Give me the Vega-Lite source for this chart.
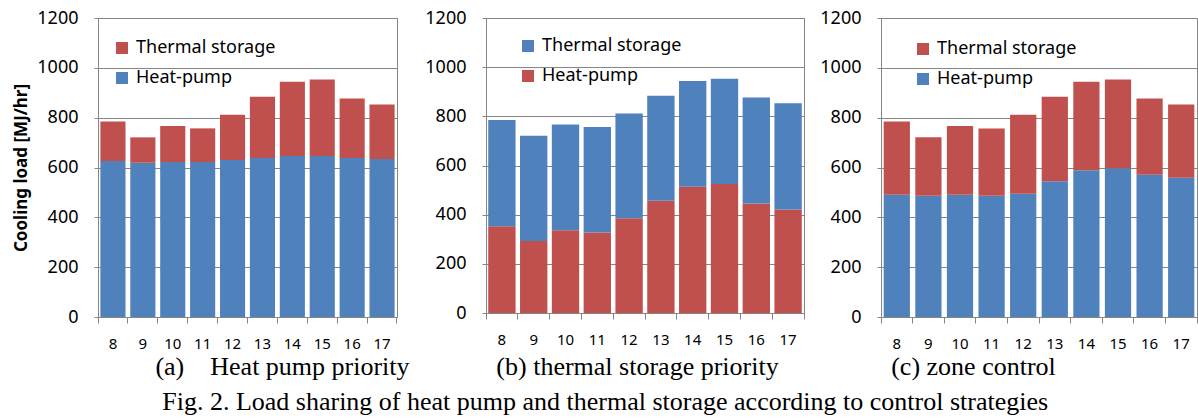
{
  "$schema": "https://vega.github.io/schema/vega-lite/v6.json",
  "padding": {"left": 12, "top": 8, "right": 0, "bottom": 0},
  "background": "white",
  "datasets": {
    "loads": [
      {"panel": "a", "hour": 8, "series": "Heat-pump", "value": 626},
      {"panel": "a", "hour": 9, "series": "Heat-pump", "value": 619},
      {"panel": "a", "hour": 10, "series": "Heat-pump", "value": 622},
      {"panel": "a", "hour": 11, "series": "Heat-pump", "value": 622},
      {"panel": "a", "hour": 12, "series": "Heat-pump", "value": 630},
      {"panel": "a", "hour": 13, "series": "Heat-pump", "value": 638},
      {"panel": "a", "hour": 14, "series": "Heat-pump", "value": 646},
      {"panel": "a", "hour": 15, "series": "Heat-pump", "value": 646},
      {"panel": "a", "hour": 16, "series": "Heat-pump", "value": 638},
      {"panel": "a", "hour": 17, "series": "Heat-pump", "value": 634},
      {"panel": "a", "hour": 8, "series": "Thermal storage", "value": 159},
      {"panel": "a", "hour": 9, "series": "Thermal storage", "value": 102},
      {"panel": "a", "hour": 10, "series": "Thermal storage", "value": 145},
      {"panel": "a", "hour": 11, "series": "Thermal storage", "value": 135},
      {"panel": "a", "hour": 12, "series": "Thermal storage", "value": 182},
      {"panel": "a", "hour": 13, "series": "Thermal storage", "value": 246},
      {"panel": "a", "hour": 14, "series": "Thermal storage", "value": 298},
      {"panel": "a", "hour": 15, "series": "Thermal storage", "value": 307},
      {"panel": "a", "hour": 16, "series": "Thermal storage", "value": 239},
      {"panel": "a", "hour": 17, "series": "Thermal storage", "value": 219},
      {"panel": "b", "hour": 8, "series": "Heat-pump", "value": 353},
      {"panel": "b", "hour": 9, "series": "Heat-pump", "value": 293},
      {"panel": "b", "hour": 10, "series": "Heat-pump", "value": 337},
      {"panel": "b", "hour": 11, "series": "Heat-pump", "value": 327},
      {"panel": "b", "hour": 12, "series": "Heat-pump", "value": 385},
      {"panel": "b", "hour": 13, "series": "Heat-pump", "value": 457},
      {"panel": "b", "hour": 14, "series": "Heat-pump", "value": 514},
      {"panel": "b", "hour": 15, "series": "Heat-pump", "value": 525},
      {"panel": "b", "hour": 16, "series": "Heat-pump", "value": 445},
      {"panel": "b", "hour": 17, "series": "Heat-pump", "value": 421},
      {"panel": "b", "hour": 8, "series": "Thermal storage", "value": 432},
      {"panel": "b", "hour": 9, "series": "Thermal storage", "value": 428},
      {"panel": "b", "hour": 10, "series": "Thermal storage", "value": 430},
      {"panel": "b", "hour": 11, "series": "Thermal storage", "value": 430},
      {"panel": "b", "hour": 12, "series": "Thermal storage", "value": 427},
      {"panel": "b", "hour": 13, "series": "Thermal storage", "value": 427},
      {"panel": "b", "hour": 14, "series": "Thermal storage", "value": 430},
      {"panel": "b", "hour": 15, "series": "Thermal storage", "value": 428},
      {"panel": "b", "hour": 16, "series": "Thermal storage", "value": 432},
      {"panel": "b", "hour": 17, "series": "Thermal storage", "value": 432},
      {"panel": "c", "hour": 8, "series": "Heat-pump", "value": 491},
      {"panel": "c", "hour": 9, "series": "Heat-pump", "value": 487},
      {"panel": "c", "hour": 10, "series": "Heat-pump", "value": 491},
      {"panel": "c", "hour": 11, "series": "Heat-pump", "value": 487},
      {"panel": "c", "hour": 12, "series": "Heat-pump", "value": 495},
      {"panel": "c", "hour": 13, "series": "Heat-pump", "value": 545},
      {"panel": "c", "hour": 14, "series": "Heat-pump", "value": 589},
      {"panel": "c", "hour": 15, "series": "Heat-pump", "value": 597},
      {"panel": "c", "hour": 16, "series": "Heat-pump", "value": 571},
      {"panel": "c", "hour": 17, "series": "Heat-pump", "value": 559},
      {"panel": "c", "hour": 8, "series": "Thermal storage", "value": 294},
      {"panel": "c", "hour": 9, "series": "Thermal storage", "value": 234},
      {"panel": "c", "hour": 10, "series": "Thermal storage", "value": 276},
      {"panel": "c", "hour": 11, "series": "Thermal storage", "value": 270},
      {"panel": "c", "hour": 12, "series": "Thermal storage", "value": 317},
      {"panel": "c", "hour": 13, "series": "Thermal storage", "value": 339},
      {"panel": "c", "hour": 14, "series": "Thermal storage", "value": 355},
      {"panel": "c", "hour": 15, "series": "Thermal storage", "value": 356},
      {"panel": "c", "hour": 16, "series": "Thermal storage", "value": 306},
      {"panel": "c", "hour": 17, "series": "Thermal storage", "value": 294}
    ]
  },
  "data": {"name": "loads"},
  "title": {
    "text": "Fig. 2. Load sharing of heat pump and thermal storage according to control strategies",
    "orient": "bottom",
    "anchor": "middle",
    "font": "Liberation Serif",
    "fontSize": 26,
    "fontWeight": "normal",
    "color": "black",
    "offset": 9,
    "dx": 0
  },
  "spacing": 14,
  "resolve": {"scale": {"color": "independent"}},
  "hconcat": [
    {
      "width": 299,
      "height": 299,
      "transform": [{"filter": "datum.panel == 'a'"}],
      "mark": {"type": "bar", "width": {"band": 0.84}},
      "encoding": {
        "x": {
          "field": "hour", "type": "ordinal",
          "scale": {"paddingInner": 0, "paddingOuter": 0},
          "axis": {"title": "(a)\u00a0\u00a0\u00a0\u00a0Heat pump priority", "titleX": 184, "titleY": 49}
        },
        "y": {
          "field": "value", "type": "quantitative", "stack": "zero",
          "scale": {"domain": [0, 1200]},
          "axis": {"values": [0, 200, 400, 600, 800, 1000, 1200], "format": "d", "title": "Cooling load [MJ/hr]"}
        },
        "color": {
          "field": "series", "type": "nominal",
          "scale": {"domain": ["Thermal storage", "Heat-pump"], "range": ["#C0504D", "#4F81BD"]},
          "legend": {"legendX": 15, "legendY": 21}
        },
        "order": {"field": "series", "sort": "ascending"}
      }
    },
    {
      "width": 318,
      "height": 295,
      "transform": [{"filter": "datum.panel == 'b'"}],
      "mark": {"type": "bar", "width": {"band": 0.86}},
      "encoding": {
        "x": {
          "field": "hour", "type": "ordinal",
          "scale": {"paddingInner": 0, "paddingOuter": 0},
          "axis": {"title": "(b) thermal storage priority", "titleX": 151, "titleY": 53}
        },
        "y": {
          "field": "value", "type": "quantitative", "stack": "zero",
          "scale": {"domain": [0, 1200]},
          "axis": {"values": [0, 200, 400, 600, 800, 1000, 1200], "format": "d", "title": null}
        },
        "color": {
          "field": "series", "type": "nominal",
          "scale": {"domain": ["Thermal storage", "Heat-pump"], "range": ["#4F81BD", "#C0504D"]},
          "legend": {"legendX": 33, "legendY": 19}
        },
        "order": {"field": "series", "sort": "ascending"}
      }
    },
    {
      "width": 316,
      "height": 299,
      "transform": [{"filter": "datum.panel == 'c'"}],
      "mark": {"type": "bar", "width": {"band": 0.83}},
      "encoding": {
        "x": {
          "field": "hour", "type": "ordinal",
          "scale": {"paddingInner": 0, "paddingOuter": 0},
          "axis": {"title": "(c) zone control", "titleX": 92, "titleY": 49}
        },
        "y": {
          "field": "value", "type": "quantitative", "stack": "zero",
          "scale": {"domain": [0, 1200]},
          "axis": {"values": [0, 200, 400, 600, 800, 1000, 1200], "format": "d", "title": null}
        },
        "color": {
          "field": "series", "type": "nominal",
          "scale": {"domain": ["Thermal storage", "Heat-pump"], "range": ["#C0504D", "#4F81BD"]},
          "legend": {"legendX": 33, "legendY": 22}
        },
        "order": {"field": "series", "sort": "ascending"}
      }
    }
  ],
  "config": {
    "view": {"stroke": "#868686", "strokeWidth": 1},
    "axis": {
      "domainColor": "#868686",
      "tickColor": "#868686",
      "gridColor": "#868686",
      "gridOpacity": 1,
      "labelColor": "black",
      "labelFont": "Noto Sans",
      "titleColor": "black"
    },
    "axisY": {
      "grid": true,
      "labelFontSize": 18,
      "tickSize": 4,
      "labelPadding": 16,
      "titleFont": "Noto Sans",
      "titleFontSize": 17,
      "titleFontWeight": "bold",
      "titlePadding": 6
    },
    "axisX": {
      "grid": false,
      "labelFontSize": 15,
      "labelAngle": 0,
      "labelBaseline": "middle",
      "tickSize": 6,
      "labelPadding": 20,
      "bandPosition": 1,
      "tickExtra": true,
      "titleFont": "Liberation Serif",
      "titleFontSize": 26,
      "titleFontWeight": "normal",
      "titleAlign": "center",
      "titleBaseline": "middle"
    },
    "legend": {
      "orient": "none",
      "title": null,
      "padding": 0,
      "symbolType": "square",
      "symbolSize": 144,
      "symbolStrokeWidth": 0,
      "labelFont": "Noto Sans",
      "labelFontSize": 18,
      "labelColor": "black",
      "labelOffset": 5,
      "rowPadding": 12,
      "labelLimit": 300
    }
  }
}
